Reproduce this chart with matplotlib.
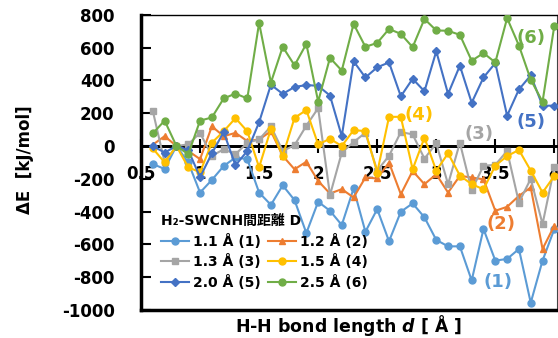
import matplotlib
matplotlib.use('Agg')
import matplotlib.pyplot as plt
import numpy as np

plt.rcParams['font.family'] = ['DejaVu Sans', 'Noto Sans CJK JP']
plt.rcParams['axes.unicode_minus'] = False

# H-H bond length d [A]
bond_length = np.round(np.arange(0.6, 4.05, 0.1), 2)

# interaction energy dE [kJ/mol] for each H2-SWCNH distance D
de_11 = [-110, -140, 0, -100, -284, -207, -122, -70, -80, -284, -359, -240, -330, -531, -340, -395, -482, -259,
         -523, -385, -581, -401, -350, -435, -573, -612, -612, -820, -506, -699, -689, -628, -956, -699, -506]
de_12 = [8, 60, 0, -30, -80, 120, 60, 80, 30, 40, 90, -60, -142, -96, -213, -290, -263, -314,
         -192, -198, -101, -294, -152, -233, -172, -284, -182, -192, -203, -395, -371, -304, -253, -628, -486]
de_13 = [214, -100, 0, 10, 80, -60, -20, -50, 20, 40, 120, -30, 5, 124, 231, -300, -40, 24,
         81, -150, -60, 85, 71, -77, 16, -233, 20, -270, -120, -115, -30, -345, -200, -476, -130]
de_15 = [-15, -100, 0, -130, -160, 20, 90, 170, 90, -130, 104, -60, 172, 219, 10, 44, 0, 97,
         91, -162, 178, 178, -142, 51, -150, -45, -180, -233, -264, -120, -61, -24, -150, -284, -182]
de_20 = [0, -40, 0, -25, -190, -45, 85, -118, -30, 145, 374, 318, 360, 372, 367, 308, 60, 517,
         418, 480, 510, 303, 410, 334, 578, 318, 490, 264, 418, 506, 185, 345, 431, 246, 246]
de_25 = [77, 155, 0, -50, 155, 174, 290, 320, 290, 751, 387, 605, 492, 623, 271, 538, 460, 745,
         605, 629, 714, 684, 603, 775, 705, 703, 678, 520, 567, 510, 780, 613, 405, 270, 735]

series = [
    (de_11, '1.1 Å (1)', '#5B9BD5', 'o', '(1)', 3.52, -829),
    (de_12, '1.2 Å (2)', '#ED7D31', '^', '(2)', 3.55, -476),
    (de_13, '1.3 Å (3)', '#A5A5A5', 's', '(3)', 3.36, 71),
    (de_15, '1.5 Å (4)', '#FFC000', 'o', '(4)', 2.85, 187),
    (de_20, '2.0 Å (5)', '#4472C4', 'D', '(5)', 3.80, 144),
    (de_25, '2.5 Å (6)', '#70AD47', 'o', '(6)', 3.80, 661),
]

fig = plt.figure(figsize=(5.58, 3.38), dpi=100)
ax = fig.add_axes([0.2527, 0.083, 0.745, 0.873])

ax.axhline(0, color='black', lw=2, zorder=1)
handles = []
for vals, lab, col, mk, tag, tx, ty in series:
    ms = 4.5 if mk == 'D' else 5
    h, = ax.plot(bond_length, vals, color=col, marker=mk, ms=ms, lw=1.5, label=lab, zorder=3)
    handles.append(h)
    ax.text(tx, ty, tag, color=col, fontsize=13, fontweight='bold', ha='center', va='center', zorder=4)

ax.set_xlim(0.5, 4.02)
ax.set_ylim(-1000, 800)
ax.set_xticks(np.arange(0.5, 4.01, 0.5))
ax.set_xticklabels(['0.5', '1', '1.5', '2', '2.5', '3', '3.5', '4'])
ax.set_yticks(np.arange(-1000, 801, 200))

# x axis drawn at dE = 0, frame kept around the plot area
ax.spines['bottom'].set_position(('data', 0))
ax.spines['bottom'].set_linewidth(2)
ax.spines['left'].set_linewidth(2.5)
ax.spines['top'].set_linewidth(1)
ax.spines['right'].set_linewidth(0.8)
ax.spines['right'].set_color('#444444')
ax.plot([0, 1], [0, 0], transform=ax.transAxes, color='black', lw=2.5, clip_on=False, zorder=5)

ax.tick_params(axis='x', direction='inout', length=10, width=1.5, pad=9, labelsize=12)
ax.tick_params(axis='y', direction='in', length=7, width=1.5, pad=19, labelsize=12)
for t in ax.get_xticklabels() + ax.get_yticklabels():
    t.set_fontweight('bold')

ax.set_ylabel('ΔE  [kJ/mol]', fontsize=12, fontweight='bold')
ax.yaxis.set_label_coords(-0.258, 0.508)
ax.set_xlabel(r'H-H bond length $\mathbfit{d}$ [ Å ]', fontsize=12.5, fontweight='bold')
ax.xaxis.set_label_coords(0.5, -0.052)
ax.xaxis.label.set_va('center')

# legend filled row by row: (1)(2) / (3)(4) / (5)(6)
order = [0, 2, 4, 1, 3, 5]
leg = ax.legend([handles[i] for i in order], [series[i][1] for i in order],
                loc='lower left', bbox_to_anchor=(0.025, 0.035), ncol=2, frameon=False,
                prop={'weight': 'bold', 'size': 10}, title='H₂-SWCNH間距離 D',
                title_fontproperties={'weight': 'bold', 'size': 10}, alignment='left',
                handlelength=2.0, handletextpad=0.3, columnspacing=0.5, labelspacing=0.4,
                borderpad=0.2)

fig.savefig('out.png', dpi=100)
